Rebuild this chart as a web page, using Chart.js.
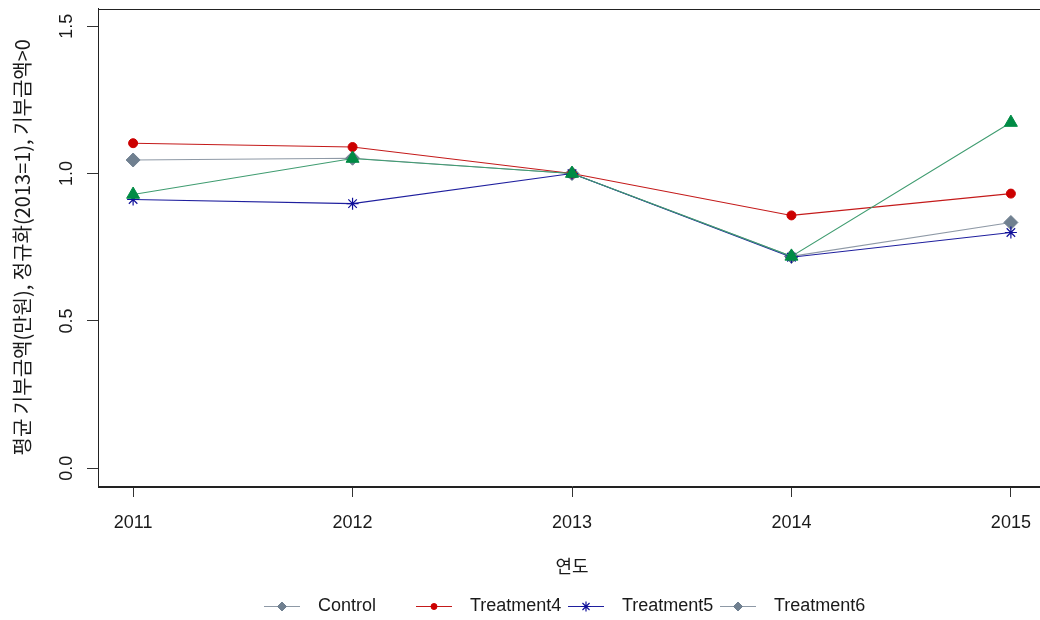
<!DOCTYPE html>
<html>
<head>
<meta charset="utf-8">
<script src="https://cdn.jsdelivr.net/npm/chart.js@4/dist/chart.umd.min.js"></script>
<style>
  html, body { margin: 0; padding: 0; background: #ffffff; overflow: hidden; }
  #wrap { width: 1040px; height: 620px; overflow: hidden; position: relative; }
  #box { width: 1062px; height: 620px; position: absolute; left: 0; top: 0; }
</style>
</head>
<body>
<div id="wrap"><div id="box"><canvas id="c"></canvas></div></div>
<script>
// Average donation per year, normalised so that 2013 = 1
const years = [2011, 2012, 2013, 2014, 2015];
const control    = [1.046, 1.052, 1.000, 0.719, 0.834];
const treatment4 = [1.103, 1.090, 1.000, 0.858, 0.932];
const treatment5 = [0.912, 0.898, 1.000, 0.716, 0.800];
const treatment6 = [0.929, 1.051, 1.000, 0.719, 1.173];
const yTicks = [0, 0.5, 1.0, 1.5];
const seriesNames = ['Control', 'Treatment4', 'Treatment5', 'Treatment6'];
const yTitle = '평균 기부금액(만원), 정규화(2013=1), 기부금액>0';
const xTitle = '연도';

const LATIN = "'Liberation Sans', Arial, sans-serif";
const HANGUL = "'Noto Sans CJK KR', 'Noto Sans', sans-serif";
const INK = '#1a1a1a';

const pts = arr => years.map((y, i) => ({ x: y, y: arr[i] }));

// Line / marker styles per series
const styles = [
  { line: '#8e99a6', mark: '#708090', point: 'rectRot',  r: 7,   bw: 1 },
  { line: '#c41a1a', mark: '#cc0000', point: 'circle',   r: 4.5, bw: 1 },
  { line: '#1f1f9e', mark: '#10109a', point: 'star',     r: 6,   bw: 1.2 },
  { line: '#3f9c70', mark: '#008b45', point: 'triangle', r: 7.5, bw: 1 }
];
const values = [control, treatment4, treatment5, treatment6];

const datasets = values.map((v, i) => ({
  label: seriesNames[i],
  data: pts(v),
  borderColor: styles[i].line,
  borderWidth: 1.1,
  backgroundColor: styles[i].mark,
  pointStyle: styles[i].point,
  pointRadius: styles[i].r,
  pointBorderColor: styles[i].mark,
  pointBackgroundColor: styles[i].mark,
  pointBorderWidth: styles[i].bw,
  tension: 0,
  order: values.length - i
}));

// Key entries as drawn under the plot
const keyEntries = [
  { name: seriesNames[0], color: '#708090', line: '#8e99a6', point: 'rectRot', r: 4.5, bw: 1 },
  { name: seriesNames[1], color: '#cc0000', line: '#c41a1a', point: 'circle',  r: 3,   bw: 1 },
  { name: seriesNames[2], color: '#10109a', line: '#1f1f9e', point: 'star',    r: 5,   bw: 1.2 },
  { name: seriesNames[3], color: '#708090', line: '#8e99a6', point: 'rectRot', r: 4.5, bw: 1 }
];

const framePlugin = {
  id: 'frame',
  afterDatasetsDraw(chart) {
    const { ctx, chartArea: a } = chart;
    ctx.save();
    ctx.strokeStyle = '#222';
    ctx.lineWidth = 1;
    ctx.strokeRect(Math.round(a.left) + 0.5, Math.round(a.top) + 0.5,
                   Math.round(a.right - a.left), Math.round(a.bottom - a.top));
    ctx.restore();
  }
};

const keyPlugin = {
  id: 'bottomKey',
  afterDraw(chart) {
    const { ctx, chartArea: a } = chart;
    const colW = 152;
    const x0 = (a.left + a.right) / 2 - 308;
    const y = 606;
    ctx.save();
    keyEntries.forEach((e, i) => {
      const x = x0 + i * colW;
      ctx.strokeStyle = e.line;
      ctx.lineWidth = 1.1;
      ctx.beginPath();
      ctx.moveTo(x, y + 0.5);
      ctx.lineTo(x + 36, y + 0.5);
      ctx.stroke();
      ctx.fillStyle = e.color;
      ctx.strokeStyle = e.color;
      ctx.lineWidth = e.bw;
      Chart.helpers.drawPoint(ctx, { pointStyle: e.point, radius: e.r, borderWidth: e.bw, rotation: 0 }, x + 18, y + 0.5);
      ctx.fillStyle = INK;
      ctx.font = '18px ' + LATIN;
      ctx.textBaseline = 'middle';
      ctx.textAlign = 'left';
      ctx.fillText(e.name, x + 54, y);
    });
    ctx.restore();
  }
};

new Chart(document.getElementById('c'), {
  type: 'line',
  data: { datasets },
  plugins: [framePlugin, keyPlugin],
  options: {
    responsive: true,
    maintainAspectRatio: false,
    animation: false,
    layout: { padding: { left: 0, top: 2, right: 16, bottom: 40 } },
    plugins: { legend: { display: false }, tooltip: { enabled: false } },
    scales: {
      x: {
        type: 'linear',
        min: 2010.84,
        max: 2015.16,
        afterBuildTicks: s => { s.ticks = years.map(v => ({ value: v })); },
        afterFit: s => { s.height = 94; s.paddingLeft = 0; s.paddingRight = 0; },
        grid: { drawOnChartArea: false, drawTicks: true, tickLength: 11, color: '#333' },
        border: { display: true, color: '#222', width: 1 },
        ticks: {
          autoSkip: false, maxRotation: 0, minRotation: 0, padding: 15,
          color: INK, font: { family: LATIN, size: 18 },
          callback: v => String(v)
        },
        title: {
          display: true, text: xTitle, color: INK,
          font: { family: HANGUL, size: 18 }, padding: { top: 0, bottom: 3 }
        }
      },
      y: {
        type: 'linear',
        min: -0.06,
        max: 1.56,
        afterBuildTicks: s => { s.ticks = yTicks.map(v => ({ value: v })); },
        afterFit: s => { s.width = 98; s.paddingTop = 0; s.paddingBottom = 0; },
        grid: { drawOnChartArea: false, drawTicks: true, tickLength: 11, color: '#333' },
        border: { display: true, color: '#222', width: 1 },
        ticks: {
          autoSkip: false, minRotation: 90, maxRotation: 90, crossAlign: 'center', padding: 7,
          color: INK, font: { family: LATIN, size: 18 },
          callback: v => v.toFixed(1)
        },
        title: {
          display: true, text: yTitle, color: INK,
          font: { family: HANGUL, size: 20 }, padding: { top: 10, bottom: 0 }
        }
      }
    }
  }
});
</script>
</body>
</html>
